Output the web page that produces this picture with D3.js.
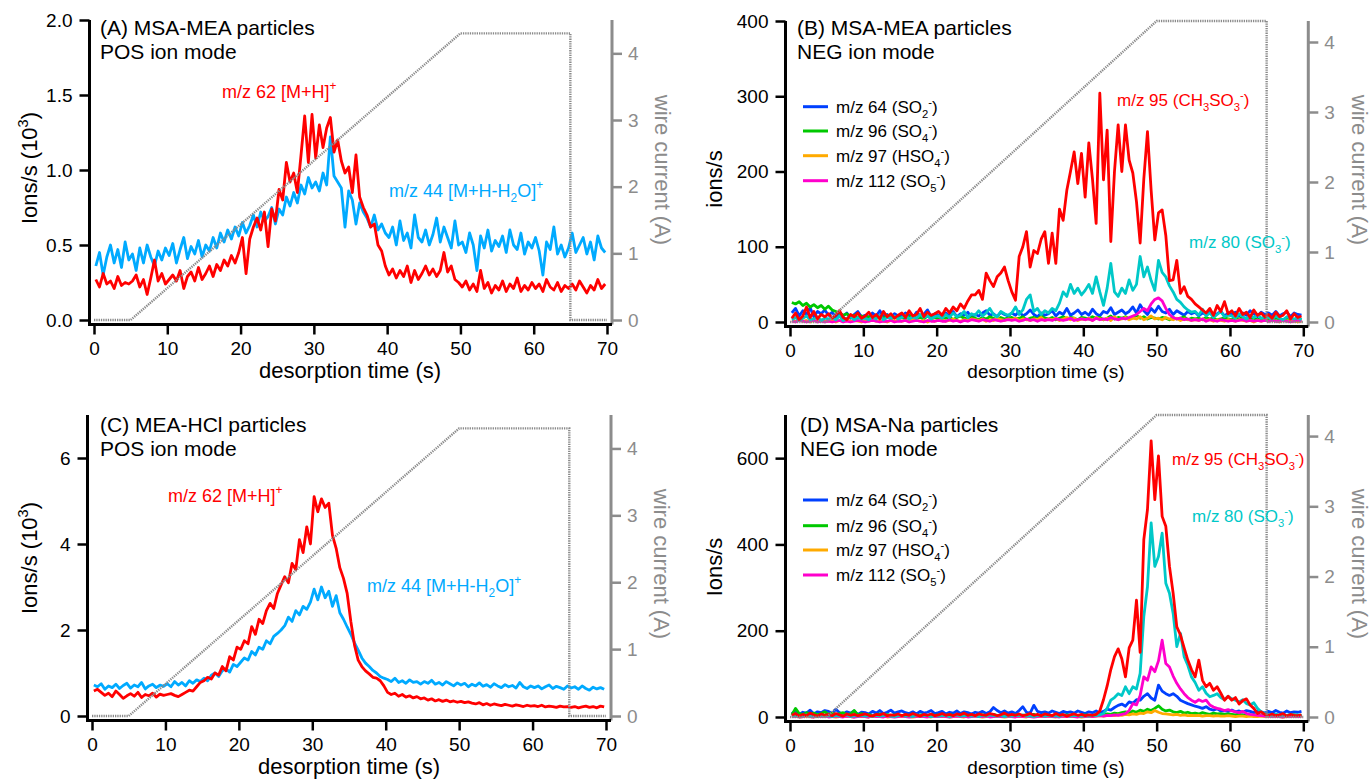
<!DOCTYPE html>
<html><head><meta charset="utf-8">
<script src="https://cdn.jsdelivr.net/npm/d3@7"></script>
<style>body{margin:0;background:#fff}svg{display:block}text{font-family:"Liberation Sans",Arial,Helvetica,sans-serif}</style>
</head><body><svg id="c" width="1372" height="779"></svg>
<script>
// ---------- data ----------
const timeStart = 0.25, timeStep = 0.5;          // sampling grid of the traces (s)
const xTicks = [0,10,20,30,40,50,60,70];
const wireTicks = [0,1,2,3,4];
const wireTime = [0,5,50,65,65,70];
const wireCurrent = [0,0,4.3,4.3,0,0];

// Panel A (10^3 ions/s)
const aRed = [0.27,0.22,0.31,0.24,0.26,0.21,0.29,0.23,0.25,0.24,
 0.26,0.30,0.22,0.27,0.17,0.28,0.40,0.26,0.31,0.24,
 0.27,0.30,0.26,0.33,0.21,0.29,0.32,0.26,0.35,0.27,
 0.31,0.36,0.29,0.37,0.33,0.40,0.36,0.43,0.38,0.45,
 0.55,0.31,0.54,0.62,0.68,0.60,0.72,0.49,0.74,0.66,
 0.87,0.80,1.05,0.92,0.98,0.85,1.10,1.36,1.05,1.37,
 1.08,1.30,1.15,1.28,1.35,1.12,1.20,1.06,0.98,1.02,
 0.85,1.10,0.82,0.75,0.70,0.62,0.64,0.50,0.46,0.36,
 0.30,0.34,0.28,0.33,0.29,0.36,0.25,0.33,0.27,0.31,
 0.36,0.30,0.34,0.29,0.33,0.45,0.32,0.36,0.27,0.25,
 0.22,0.26,0.20,0.24,0.19,0.33,0.21,0.25,0.18,0.23,
 0.20,0.26,0.19,0.24,0.21,0.28,0.19,0.23,0.20,0.25,
 0.21,0.24,0.19,0.27,0.22,0.20,0.25,0.19,0.23,0.21,
 0.24,0.20,0.26,0.22,0.18,0.23,0.20,0.27,0.21,0.24];
const aBlue = [0.36,0.45,0.30,0.42,0.50,0.38,0.47,0.35,0.52,0.40,
 0.44,0.33,0.48,0.38,0.50,0.42,0.36,0.46,0.40,0.48,
 0.43,0.51,0.38,0.47,0.55,0.41,0.49,0.44,0.53,0.42,
 0.50,0.46,0.55,0.48,0.58,0.52,0.60,0.54,0.62,0.56,
 0.65,0.58,0.63,0.70,0.62,0.72,0.66,0.69,0.75,0.64,
 0.74,0.70,0.82,0.76,0.85,0.78,0.90,0.84,0.95,0.88,
 0.92,0.86,0.98,0.90,1.22,0.96,0.92,0.88,0.62,0.86,
 0.80,0.64,0.78,0.72,0.68,0.62,0.70,0.60,0.64,0.58,
 0.55,0.62,0.50,0.66,0.53,0.58,0.48,0.70,0.55,0.52,
 0.60,0.50,0.57,0.68,0.52,0.62,0.55,0.48,0.66,0.50,
 0.52,0.45,0.58,0.50,0.33,0.56,0.48,0.60,0.46,0.53,
 0.49,0.56,0.45,0.60,0.50,0.47,0.58,0.44,0.52,0.48,
 0.55,0.46,0.30,0.52,0.47,0.62,0.44,0.50,0.42,0.48,
 0.58,0.45,0.50,0.55,0.44,0.52,0.40,0.56,0.48,0.45];

// Panel B (ions/s)
const bRed = [5,12,3,8,20,6,14,4,10,7,
 11,5,9,15,6,3,10,7,12,5,
 8,13,6,10,4,14,7,11,5,9,
 12,6,15,8,10,18,7,13,9,11,
 14,9,18,12,20,15,24,18,28,36,
 36,42,30,65,55,47,60,65,73,55,
 40,29,87,100,120,73,95,91,110,120,
 78,118,78,150,135,175,200,226,184,224,
 166,238,190,131,304,189,255,107,200,262,
 200,262,215,198,160,105,190,253,175,109,
 145,149,115,55,56,82,38,47,34,30,
 24,20,16,12,18,9,22,14,27,11,
 15,8,18,10,13,6,16,9,12,7,
 10,5,13,7,9,15,4,11,6,8];
const bCyan = [3,6,2,5,8,3,4,7,2,5,
 4,6,3,8,2,5,7,3,6,4,
 5,3,7,4,9,3,6,5,8,4,
 6,9,4,7,5,10,6,8,4,7,
 8,5,10,6,12,7,9,14,6,11,
 9,15,8,12,18,10,7,14,11,9,
 12,20,10,16,30,36,14,18,10,15,
 12,18,15,25,40,34,50,38,45,36,
 42,50,38,60,40,22,45,78,40,34,
 45,38,56,42,50,87,60,73,55,42,
 82,66,60,48,40,30,26,20,16,13,
 14,9,17,8,12,6,10,14,7,9,
 8,5,11,7,4,9,6,10,5,7,
 6,4,8,5,3,7,5,4,6,3];
const bBlue = [12,18,8,15,10,19,7,14,11,16,
 9,13,6,11,8,12,5,10,14,7,
 9,6,12,8,15,7,10,5,11,8,
 7,12,9,6,13,8,10,16,7,11,
 9,6,12,8,14,7,11,9,13,6,
 10,8,12,15,9,11,7,13,10,8,
 12,9,14,8,11,16,10,7,12,9,
 11,15,8,13,10,18,9,12,16,10,
 13,9,17,11,8,14,12,19,10,13,
 16,11,14,20,12,23,15,10,18,13,
 21,14,12,17,10,15,12,9,14,11,
 13,8,12,10,15,9,11,14,8,12,
 10,13,8,12,9,15,11,7,13,10,
 12,9,14,8,11,13,7,12,10,9];
const bGreen = [26,24,27,22,25,20,23,19,22,17,
 21,16,14,12,9,11,7,9,6,8,
 5,7,4,8,6,5,9,4,6,5,
 6,4,7,9,5,6,4,8,5,6,
 4,6,5,7,3,6,8,5,4,6,
 5,3,6,4,7,5,3,6,4,5,
 6,4,5,7,3,5,6,4,8,5,
 4,6,3,5,7,4,6,5,3,6,
 5,4,7,5,6,3,5,8,4,6,
 5,7,4,6,9,5,7,4,6,5,
 4,6,5,3,6,4,5,7,3,5,
 4,5,3,6,4,5,3,4,6,4,
 3,5,4,6,3,4,5,3,4,5,
 4,3,5,4,3,5,4,3,4,3];
const bOrange = [2,1,3,1,2,0,2,1,3,1,
 1,2,0,2,1,3,1,2,1,0,
 2,1,3,1,2,1,0,2,1,3,
 1,2,1,3,2,1,2,0,3,1,
 2,3,1,2,4,2,1,3,2,4,
 3,2,4,1,3,2,5,3,2,4,
 3,5,2,4,3,2,4,3,6,2,
 4,3,5,2,4,6,3,5,2,4,
 3,5,2,6,4,3,5,2,7,3,
 4,6,3,5,4,7,3,5,8,4,
 5,3,6,4,3,5,2,4,3,2,
 3,2,4,2,3,1,3,2,1,3,
 2,1,3,2,1,2,0,2,1,2,
 1,2,1,0,2,1,2,1,0,1];
const bMagenta = [1,0,2,1,0,1,2,0,1,0,
 1,0,1,2,0,1,0,1,2,1,
 0,1,2,1,0,1,1,2,0,1,
 1,2,0,1,2,1,0,2,1,1,
 2,1,1,3,1,2,0,2,1,3,
 2,1,3,2,1,3,2,1,2,3,
 2,3,1,2,4,2,3,1,3,2,
 3,2,4,3,2,3,5,2,3,4,
 3,4,2,5,3,4,3,6,4,3,
 5,4,6,8,10,14,18,15,24,30,
 32,28,18,10,6,4,5,3,4,2,
 3,2,4,1,3,2,1,3,2,1,
 2,1,2,3,1,2,1,2,1,2,
 1,2,1,1,2,1,0,1,2,1];

// Panel C (10^3 ions/s)
const cRed = [0.58,0.62,0.55,0.48,0.53,0.45,0.58,0.50,0.41,0.47,
 0.52,0.46,0.55,0.43,0.50,0.47,0.53,0.44,0.51,0.48,
 0.50,0.52,0.48,0.45,0.50,0.55,0.60,0.58,0.68,0.78,
 0.82,0.90,0.86,1.00,0.95,1.15,1.05,1.38,1.30,1.60,
 1.55,1.75,1.68,2.08,1.90,2.25,2.15,2.45,2.62,2.50,
 2.85,3.05,3.24,3.10,3.55,3.40,4.10,3.80,4.40,4.00,
 5.10,4.75,5.05,4.85,4.95,4.20,3.90,3.45,3.20,2.85,
 2.20,1.65,1.30,1.15,1.05,0.98,0.90,0.88,0.82,0.70,
 0.55,0.50,0.53,0.46,0.50,0.44,0.47,0.42,0.45,0.40,
 0.42,0.37,0.40,0.35,0.38,0.34,0.37,0.33,0.35,0.32,
 0.34,0.31,0.33,0.30,0.28,0.31,0.26,0.29,0.25,0.28,
 0.26,0.24,0.27,0.25,0.23,0.26,0.24,0.22,0.25,0.23,
 0.24,0.22,0.25,0.21,0.23,0.22,0.20,0.23,0.21,0.22,
 0.20,0.22,0.19,0.21,0.23,0.20,0.22,0.19,0.23,0.21];
const cBlue = [0.72,0.68,0.75,0.62,0.70,0.66,0.74,0.64,0.71,0.76,
 0.65,0.72,0.68,0.78,0.63,0.70,0.74,0.66,0.72,0.69,
 0.75,0.68,0.80,0.72,0.78,0.70,0.82,0.76,0.84,0.80,
 0.88,0.82,0.95,1.00,0.92,1.05,1.10,1.02,1.20,1.15,
 1.25,1.35,1.30,1.50,1.42,1.60,1.55,1.75,1.68,1.85,
 1.92,2.00,2.10,2.30,2.20,2.45,2.35,2.55,2.48,2.65,
 2.95,2.70,3.00,2.75,2.90,2.55,2.80,2.40,2.25,2.07,
 1.90,1.70,1.53,1.35,1.23,1.15,1.06,1.00,0.92,0.88,
 0.85,0.80,0.88,0.78,0.82,0.76,0.84,0.78,0.80,0.74,
 0.80,0.76,0.83,0.74,0.78,0.72,0.80,0.75,0.70,0.77,
 0.72,0.76,0.68,0.74,0.70,0.77,0.69,0.73,0.67,0.75,
 0.70,0.66,0.73,0.68,0.71,0.65,0.78,0.68,0.64,0.70,
 0.66,0.70,0.63,0.68,0.72,0.64,0.69,0.66,0.62,0.70,
 0.65,0.68,0.62,0.70,0.64,0.60,0.67,0.63,0.66,0.62];

// Panel D (ions/s)
const dRed = [4,8,2,6,3,9,5,2,7,4,
 6,3,8,5,2,7,4,6,3,5,
 7,4,2,6,5,8,3,5,4,7,
 3,6,4,8,5,2,6,4,7,3,
 5,8,4,6,3,7,5,9,4,6,
 3,7,5,4,8,6,3,5,9,4,
 6,4,7,3,5,8,4,6,3,7,
 5,3,8,4,6,2,5,7,4,6,
 3,5,4,6,14,40,72,110,140,158,
 135,93,160,178,271,150,411,481,640,504,
 605,465,442,349,287,209,190,160,132,110,
 93,132,85,70,78,62,70,55,39,48,
 39,45,30,38,42,28,20,8,12,6,
 4,7,3,5,8,2,6,4,3,5];
const dCyan = [2,4,1,3,5,2,3,1,4,2,
 3,1,4,2,3,5,1,3,2,4,
 2,3,1,4,2,3,5,2,1,3,
 4,2,3,1,5,2,3,4,1,3,
 2,4,3,1,3,5,2,3,4,2,
 3,1,4,2,5,3,2,4,1,3,
 2,4,3,5,2,3,1,4,3,2,
 4,2,3,1,5,3,2,4,3,2,
 3,2,4,3,5,8,20,39,45,54,
 50,70,54,70,65,101,233,302,450,349,
 372,426,310,287,240,163,194,140,120,93,
 80,62,70,55,47,50,54,45,40,48,
 42,39,35,40,31,28,33,20,12,8,
 6,4,7,3,5,4,6,3,5,4];
const dBlue = [8,14,6,11,9,16,7,12,10,15,
 13,8,18,10,7,12,9,14,6,11,
 10,7,13,9,15,8,11,16,9,12,
 14,10,8,12,7,13,9,11,15,8,
 10,13,7,11,9,14,8,12,10,7,
 11,9,13,8,12,22,15,10,14,9,
 12,8,15,24,11,9,27,13,10,12,
 9,14,11,8,13,10,12,9,14,11,
 8,12,10,14,9,13,18,16,22,27,
 30,25,35,32,40,39,48,54,44,39,
 74,60,54,50,54,48,39,35,31,28,
 25,23,20,24,18,16,19,14,15,13,
 16,12,14,11,15,13,10,14,12,9,
 13,10,15,11,9,14,10,12,11,13];
const dGreen = [5,20,8,6,10,7,9,5,8,12,
 6,9,5,8,10,6,7,15,5,8,
 4,6,3,5,7,4,6,3,5,4,
 3,5,4,6,3,5,4,3,6,4,
 5,3,4,6,4,3,5,4,3,5,
 4,3,5,4,3,6,4,3,5,4,
 3,5,4,3,5,4,6,3,4,5,
 4,3,5,4,3,5,4,6,3,4,
 5,4,3,6,4,5,7,6,9,8,
 10,12,9,14,11,16,13,18,15,20,
 26,18,14,16,12,10,13,9,11,8,
 9,7,10,8,6,9,7,8,6,7,
 6,5,7,4,6,5,4,6,3,5,
 4,3,5,4,3,4,3,5,4,3];
const dOrange = [1,2,0,1,2,1,0,2,1,1,
 2,1,0,1,2,1,1,0,2,1,
 1,0,2,1,1,2,0,1,1,2,
 1,2,1,0,1,2,1,1,0,2,
 1,1,2,0,1,2,1,0,2,1,
 2,1,0,1,2,1,2,1,0,1,
 1,2,1,1,0,2,1,2,1,1,
 2,1,0,2,1,1,2,1,1,0,
 1,2,1,2,3,2,3,4,3,5,
 4,6,5,7,6,9,8,12,10,15,
 11,8,7,6,5,6,4,5,3,4,
 3,4,2,3,3,2,3,2,2,3,
 2,1,2,2,1,2,1,1,2,1,
 1,2,1,1,0,1,2,1,1,1];
const dMagenta = [1,2,0,1,3,1,0,2,1,2,
 0,1,2,1,0,2,1,0,1,2,
 1,0,2,1,1,0,2,1,0,1,
 2,1,0,1,2,1,1,0,2,1,
 1,2,1,0,1,2,1,2,0,1,
 2,1,1,2,0,1,2,1,1,2,
 1,0,2,1,2,1,0,1,2,1,
 2,1,1,0,2,1,2,1,0,2,
 1,2,1,2,3,2,4,3,5,4,
 6,8,15,31,28,50,93,85,116,105,
 130,178,124,116,95,78,65,54,45,39,
 34,40,36,39,28,23,20,18,15,17,
 14,12,10,13,8,6,5,4,3,2,
 2,1,2,1,0,2,1,2,1,1];

const times = aRed.map((_, i) => timeStart + timeStep * i);

// ---------- drawing ----------
const C = {red:"#ff0000", light:"#00aaff", cyan:"#00c8c8", blue:"#0040ff", green:"#00c800", orange:"#ffaa00", magenta:"#ff00cc"};
const GRAY = "#8c8c8c";
const svg = d3.select("#c");

function rich(g, x, y, parts, fs, color, anchor, transform) {
  const t = g.append("text").attr("x", x).attr("y", y).attr("font-size", fs)
    .attr("fill", color).attr("text-anchor", anchor || "start");
  if (transform) t.attr("transform", transform);
  let shift = 0;
  parts.forEach(p => {
    const s = typeof p === "string" ? p : p[0];
    const m = typeof p === "string" ? 0 : p[1];
    const target = m === 1 ? 0.3 * fs : m === 2 ? -0.42 * fs : 0;
    const ts = t.append("tspan").text(s).attr("dy", target - shift);
    if (m) ts.attr("font-size", fs * 0.66);
    shift = target;
  });
  return t;
}

const lblMH = ["m/z 62 [M+H]", ["+",2]];
const lblMHW = ["m/z 44 [M+H-H", ["2",1], "O]", ["+",2]];
const lbl95 = ["m/z 95 (CH", ["3",1], "SO", ["3",1], ["-",2], ")"];
const lbl80 = ["m/z 80 (SO", ["3",1], ["-",2], ")"];
const legendNames = [
  ["m/z 64 (SO", ["2",1], ["-",2], ")"],
  ["m/z 96 (SO", ["4",1], ["-",2], ")"],
  ["m/z 97 (HSO", ["4",1], ["-",2], ")"],
  ["m/z 112 (SO", ["5",1], ["-",2], ")"]
];
const legendColors = [C.blue, C.green, C.orange, C.magenta];

function panel(cfg) {
  const g = svg.append("g");
  const x = d3.scaleLinear().domain([0, 70]).range(cfg.xr);
  const y = d3.scaleLinear().domain(cfg.yd).range(cfg.yr);
  const yW = d3.scaleLinear().domain([0, cfg.wMax]).range(cfg.yr);
  const axL = x(0) - 4.5, axB = y(0) + 4.5, axR = x(70) + 5, top = cfg.yr[1];

  cfg.series.forEach(s => {
    g.append("path").datum(s.values).attr("fill", "none").attr("stroke", s.color)
      .attr("stroke-width", 2.8).attr("stroke-linejoin", "round")
      .attr("d", d3.line().x((d, i) => x(times[i])).y(d => y(d)));
  });
  g.append("path").datum(wireTime.map((t, i) => [t, wireCurrent[i]]))
    .attr("fill", "none").attr("stroke", "#8a8a8a").attr("stroke-width", 2.4)
    .attr("stroke-dasharray", "1.3,1")
    .attr("d", d3.line().x(d => x(d[0])).y(d => yW(d[1])));

  // axes
  const styleAxis = (sel, col) => {
    sel.select(".domain").remove();
    sel.selectAll("line").attr("stroke", col).attr("stroke-width", 2.5);
    sel.selectAll("text").attr("fill", col).attr("font-size", 19)
      .attr("font-family", '"Liberation Sans", Arial, Helvetica, sans-serif');
  };
  g.append("g").attr("transform", `translate(0,${axB})`)
    .call(d3.axisBottom(x).tickValues(xTicks).tickSize(10).tickPadding(7).tickFormat(d3.format("d")))
    .call(s => styleAxis(s, "#000"));
  g.append("g").attr("transform", `translate(${axL},0)`)
    .call(d3.axisLeft(y).tickValues(cfg.yTicks).tickSize(10).tickPadding(7).tickFormat(d3.format(cfg.fmt)))
    .call(s => styleAxis(s, "#000"));
  g.append("g").attr("transform", `translate(${axR},0)`)
    .call(d3.axisRight(yW).tickValues(wireTicks).tickSize(10).tickPadding(6).tickFormat(d3.format("d")))
    .call(s => styleAxis(s, GRAY));
  g.append("line").attr("x1", axR).attr("x2", axR).attr("y1", top).attr("y2", axB)
    .attr("stroke", GRAY).attr("stroke-width", 3);
  g.append("line").attr("x1", axL).attr("x2", axL).attr("y1", top).attr("y2", axB + 1.5)
    .attr("stroke", "#000").attr("stroke-width", 3);
  g.append("line").attr("x1", axL - 1.5).attr("x2", axR).attr("y1", axB).attr("y2", axB)
    .attr("stroke", "#000").attr("stroke-width", 3);

  // labels
  g.append("text").attr("x", cfg.title[0]).attr("y", cfg.title[1]).attr("font-size", 21).text(cfg.titleText[0]);
  g.append("text").attr("x", cfg.title[0]).attr("y", cfg.title[1] + 24).attr("font-size", 21).text(cfg.titleText[1]);
  g.append("text").attr("x", cfg.xlab[0]).attr("y", cfg.xlab[1]).attr("font-size", cfg.xlabSize)
    .attr("text-anchor", "middle").text("desorption time (s)");
  rich(g, 0, 0, cfg.ylabText, 22, "#000", "middle", `translate(${cfg.ylab[0]},${cfg.ylab[1]}) rotate(-90)`);
  g.append("text").attr("font-size", 22).attr("fill", GRAY).attr("text-anchor", "middle")
    .attr("transform", `translate(${cfg.wlab[0]},${cfg.wlab[1]}) rotate(90)`).text("wire current (A)");

  cfg.notes.forEach(n => rich(g, n.x, n.y, n.parts, n.fs, n.color));

  if (cfg.legend) {
    cfg.legend.rows.forEach((ry, i) => {
      g.append("line").attr("x1", 803).attr("x2", 828).attr("y1", ry).attr("y2", ry)
        .attr("stroke", legendColors[i]).attr("stroke-width", 3);
      rich(g, 836, ry + 6, legendNames[i], 17, "#000");
    });
  }
}

const negSeries = (blue, green, orange, mag, cyan, red) => [
  {values: blue, color: C.blue}, {values: green, color: C.green},
  {values: orange, color: C.orange}, {values: mag, color: C.magenta},
  {values: cyan, color: C.cyan}, {values: red, color: C.red}];

panel({
  xr: [94, 607], yd: [0, 2], yr: [320, 20], wMax: 4.5, yTicks: [0, 0.5, 1, 1.5, 2], fmt: ".1f",
  series: [{values: aBlue, color: C.light}, {values: aRed, color: C.red}],
  title: [100, 35], titleText: ["(A) MSA-MEA particles", "POS ion mode"],
  xlab: [350, 378], xlabSize: 22,
  ylab: [37, 168], ylabText: ["Ions/s (10", ["3", 2], ")"],
  wlab: [655, 170],
  notes: [{x: 222, y: 98, parts: lblMH, fs: 18, color: C.red},
          {x: 389, y: 197, parts: lblMHW, fs: 18, color: C.light}]
});
panel({
  xr: [790, 1303.3], yd: [0, 400], yr: [322, 21], wMax: 4.3, yTicks: [0, 100, 200, 300, 400], fmt: "d",
  series: negSeries(bBlue, bGreen, bOrange, bMagenta, bCyan, bRed),
  title: [797, 35], titleText: ["(B) MSA-MEA particles", "NEG ion mode"],
  xlab: [1046, 378], xlabSize: 19,
  ylab: [722, 179], ylabText: ["ions/s"],
  wlab: [1352, 170],
  notes: [{x: 1117, y: 106, parts: lbl95, fs: 17, color: C.red},
          {x: 1189, y: 248, parts: lbl80, fs: 17, color: C.cyan}],
  legend: {rows: [106.7, 131, 155.7, 180.7]}
});
panel({
  xr: [92, 606], yd: [0, 7], yr: [716, 415], wMax: 4.5, yTicks: [0, 2, 4, 6], fmt: "d",
  series: [{values: cBlue, color: C.light}, {values: cRed, color: C.red}],
  title: [100, 432], titleText: ["(C) MEA-HCl particles", "POS ion mode"],
  xlab: [349, 774], xlabSize: 22,
  ylab: [37, 558], ylabText: ["Ions/s (10", ["3", 2], ")"],
  wlab: [654, 564],
  notes: [{x: 168, y: 502, parts: lblMH, fs: 18, color: C.red},
          {x: 367, y: 592, parts: lblMHW, fs: 18, color: C.light}]
});
panel({
  xr: [790, 1303.3], yd: [0, 700], yr: [717, 415], wMax: 4.3, yTicks: [0, 200, 400, 600], fmt: "d",
  series: negSeries(dBlue, dGreen, dOrange, dMagenta, dCyan, dRed),
  title: [800, 432], titleText: ["(D) MSA-Na particles", "NEG ion mode"],
  xlab: [1046, 774], xlabSize: 19,
  ylab: [722, 567], ylabText: ["Ions/s"],
  wlab: [1352, 564],
  notes: [{x: 1172, y: 465, parts: lbl95, fs: 17, color: C.red},
          {x: 1192, y: 522, parts: lbl80, fs: 17, color: C.cyan}],
  legend: {rows: [500, 525.7, 550, 575]}
});
</script></body></html>
